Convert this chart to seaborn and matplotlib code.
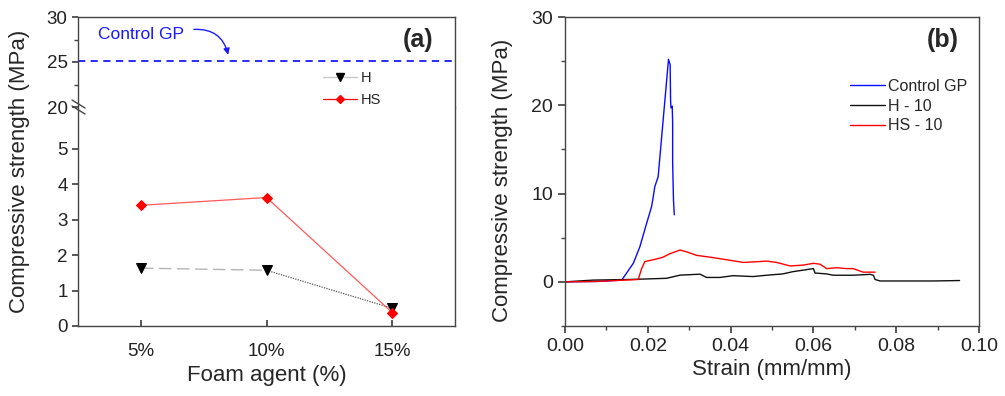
"""Resistência à compressão: (a) por teor de espuma, (b) curvas tensão x deformação."""

import numpy as np
import pandas as pd
import seaborn as sns
import matplotlib.pyplot as plt
from matplotlib.lines import Line2D

# ---- dados do painel (a)
foam_labels = ['5%', '10%', '15%']
h_strength = [1.63, 1.57, 0.50]
hs_strength = [3.40, 3.62, 0.38]
control_gp = 25.1

# ---- dados do painel (b)
ctrl_strain = [0.0, 0.008, 0.0137, 0.0165, 0.0181, 0.0197, 0.0209, 0.0212, 0.0217,
               0.0225, 0.0250, 0.0254, 0.0255, 0.0256, 0.0259, 0.0260, 0.0260,
               0.0260, 0.0262, 0.0264]
ctrl_stress = [0.0, 0.05, 0.2, 2.1, 4.0, 6.6, 8.5, 9.3, 10.8,
               11.9, 25.2, 24.6, 20.6, 19.7, 19.9, 18.0, 15.7,
               13.5, 9.3, 7.6]

hs_strain = [0.0, 0.008, 0.0177, 0.0185, 0.0193, 0.0213, 0.0230, 0.0237, 0.0254,
             0.0278, 0.0294, 0.0318, 0.0350, 0.0391, 0.0431, 0.0471, 0.0487,
             0.0511, 0.0544, 0.0576, 0.0600, 0.0616, 0.0632, 0.0656, 0.0680,
             0.0696, 0.0720, 0.0749]
hs_stress = [0.0, 0.05, 0.27, 1.5, 2.3, 2.5, 2.7, 2.8, 3.2,
             3.6, 3.4, 3.0, 2.8, 2.5, 2.2, 2.3, 2.35,
             2.2, 1.8, 1.9, 2.1, 2.0, 1.5, 1.6, 1.5,
             1.5, 1.1, 1.1]

h_strain = [0.0, 0.0068, 0.0157, 0.0245, 0.0278, 0.0326, 0.0342, 0.0374, 0.0406,
            0.0454, 0.0487, 0.0526, 0.0550, 0.0600, 0.0604, 0.0632, 0.0648,
            0.0696, 0.0737, 0.0745, 0.0749, 0.0761, 0.0810, 0.0890, 0.0953]
h_stress = [0.0, 0.2, 0.27, 0.4, 0.76, 0.87, 0.5, 0.5, 0.7,
            0.6, 0.75, 0.9, 1.15, 1.5, 1.0, 0.9, 0.75,
            0.75, 0.85, 0.75, 0.27, 0.1, 0.1, 0.1, 0.15]

sns.set_theme(style='ticks')
plt.rcParams['font.family'] = ['Liberation Sans', 'DejaVu Sans']
plt.rcParams['axes.edgecolor'] = '#444444'
plt.rcParams['axes.linewidth'] = 1.0
plt.rcParams['xtick.color'] = '#444444'
plt.rcParams['ytick.color'] = '#444444'
plt.rcParams['xtick.labelcolor'] = '#222222'
plt.rcParams['ytick.labelcolor'] = '#222222'

W, H = 1005, 396
fig = plt.figure(figsize=(W / 100, H / 100), dpi=100)


def px_axes(left, top, right, bottom):
    return fig.add_axes([left / W, (H - bottom) / H, (right - left) / W, (bottom - top) / H])


# ---------------- painel (a): eixo quebrado
ax_top = px_axes(78, 17, 455, 107)
ax_low = px_axes(78, 107, 455, 326)

x_pos = np.arange(len(foam_labels))

# série H: trecho 5-10% tracejado claro, trecho 10-15% pontilhado escuro
sns.lineplot(x=x_pos[:2], y=h_strength[:2], ax=ax_low, color='#b5b5b5', lw=1.0,
             linestyle=(0, (9, 4)))
sns.lineplot(x=x_pos[1:], y=h_strength[1:], ax=ax_low, color='#555555', lw=0.9,
             linestyle=(0, (1, 1)))
sns.lineplot(x=x_pos, y=h_strength, ax=ax_low, lw=0, marker='v', markersize=7,
             markerfacecolor='black', markeredgecolor='black')
sns.lineplot(x=x_pos, y=hs_strength, ax=ax_low, color='#ff5a5a', lw=0.9,
             marker='D', markersize=5.5, markerfacecolor='red', markeredgecolor='red')

for ax in (ax_top, ax_low):
    ax.set_xlim(-0.5, 2.5)
    ax.set_xlabel('')
    ax.set_ylabel('')
    ax.tick_params(axis='x', direction='in', length=4, labelsize=13.5)
    ax.tick_params(axis='y', direction='out', length=4, labelsize=13.5)
    for s in ('top', 'right', 'left', 'bottom'):
        ax.spines[s].set_visible(True)

ax_low.set_ylim(0, 6.17)
ax_low.set_yticks([0, 1, 2, 3, 4, 5])
ax_low.set_xticks(x_pos)
ax_low.set_xticklabels(foam_labels)
ax_low.spines['top'].set_visible(False)
ax_low.tick_params(axis='x', pad=12)

ax_top.set_ylim(20, 30)
ax_top.set_yticks([20, 25, 30])
ax_top.set_yticks([22.5, 27.5], minor=True)
ax_top.tick_params(axis='y', which='minor', direction='out', length=3)
ax_top.set_xticks([])
ax_top.spines['bottom'].set_visible(False)
ax_top.axhline(control_gp, color='#1a1aff', lw=1.3, linestyle=(0, (4, 3)))

ax_top.annotate('', xy=(0.70, 25.5), xytext=(0.40, 28.6),
                arrowprops=dict(arrowstyle='-|>', color='#1a1aff', lw=1.0,
                                connectionstyle='arc3,rad=-0.45', mutation_scale=9))
ax_top.text(0.0, 28.1, 'Control GP', color='#1a1aff', fontsize=12.5,
            ha='center', va='center')
ax_top.text(418, 356, '(a)', transform=None, fontsize=18, fontweight='bold',
            ha='center', va='center')

# marcas de quebra no eixo y
brk = dict(transform=fig.transFigure, color='#444444', lw=1.0, clip_on=False)
for dy in (-3, 3):
    fig.add_artist(Line2D([72 / W, 85 / W], [(H - 107 - dy + 4) / H, (H - 107 - dy - 4) / H], **brk))

legend_a = [Line2D([], [], color='#c8c8c8', lw=1.0, marker='v', markersize=6,
                   markerfacecolor='black', markeredgecolor='black'),
            Line2D([], [], color='red', lw=0.9, marker='D', markersize=4.5,
                   markerfacecolor='red', markeredgecolor='red')]
fig.legend(legend_a, ['H', 'HS'], loc='upper left', bbox_to_anchor=(323 / W, (H - 71) / H),
           frameon=False, fontsize=10.5, handlelength=2.3, handletextpad=0.3,
           labelspacing=0.55, borderaxespad=0, borderpad=0)

fig.text(20 / W, (H - 171.5) / H, 'Compressive strength (MPa)', rotation=90,
         ha='center', va='center', fontsize=16)
fig.text(267 / W, (H - 376) / H, 'Foam agent (%)', ha='center', va='center', fontsize=16)

# ---------------- painel (b): curvas tensão x deformação
ax_b = px_axes(565, 17, 979, 326)
df_b = pd.concat([
    pd.DataFrame({'strain': ctrl_strain, 'stress': ctrl_stress, 'amostra': 'Control GP'}),
    pd.DataFrame({'strain': h_strain, 'stress': h_stress, 'amostra': 'H - 10'}),
    pd.DataFrame({'strain': hs_strain, 'stress': hs_stress, 'amostra': 'HS - 10'}),
])
paleta = {'Control GP': '#0a0aff', 'H - 10': '#111111', 'HS - 10': '#ff0000'}
sns.lineplot(data=df_b, x='strain', y='stress', hue='amostra', palette=paleta,
             sort=False, estimator=None, lw=1.0, ax=ax_b)

ax_b.set_xlim(0, 0.10)
ax_b.set_ylim(-5, 30)
ax_b.set_xticks(np.arange(0, 0.101, 0.02))
ax_b.set_xticks(np.arange(0.01, 0.1, 0.02), minor=True)
ax_b.set_yticks([0, 10, 20, 30])
ax_b.set_yticks([-5, 5, 15, 25], minor=True)
ax_b.xaxis.set_major_formatter(plt.FormatStrFormatter('%.2f'))
ax_b.tick_params(which='major', direction='out', length=5, labelsize=14)
ax_b.tick_params(which='minor', direction='out', length=3)
for s in ('top', 'right'):
    ax_b.spines[s].set_visible(True)
ax_b.set_xlabel('Strain (mm/mm)', fontsize=16, labelpad=3)
ax_b.set_ylabel('Compressive strength (MPa)', fontsize=16)
ax_b.yaxis.set_label_coords(-0.126, 0.47)
ax_b.legend(loc='upper left', bbox_to_anchor=(0.688, 0.80), frameon=False, fontsize=11.5,
            handlelength=2.2, handletextpad=0.2, labelspacing=0.3, borderaxespad=0,
            borderpad=0)
ax_b.text(943, 356, '(b)', transform=None, fontsize=18, fontweight='bold',
          ha='center', va='center')

fig.savefig('out.png', dpi=100)
